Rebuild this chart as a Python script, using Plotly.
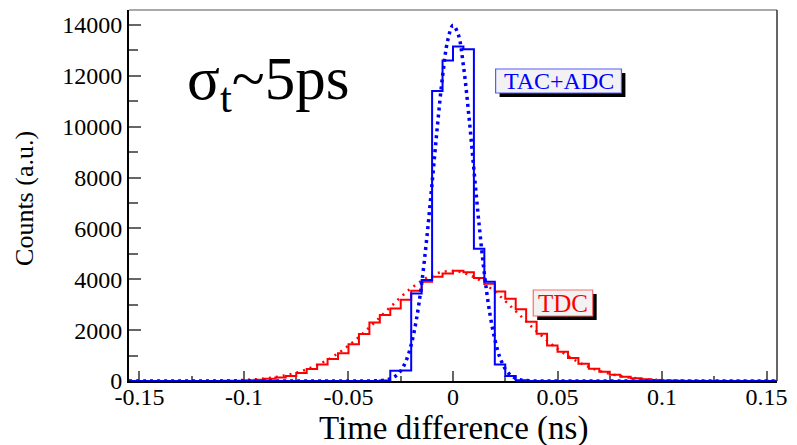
import numpy as np
import plotly.graph_objects as go

# ---- histogram binning (ns) ----
BIN_LO = -0.155
BIN_W = 0.005

# TDC histogram counts, 62 bins of 5 ps from -0.155 ns
tdc_counts = [
    0, 0, 0, 0, 0, 0, 0, 0, 2, 5,
    12, 25, 50, 85, 140, 200, 310, 470, 650, 870,
    1090, 1450, 1850, 2300, 2600, 2850, 3200, 3550, 3900, 4100,
    4230, 4340, 4280, 4050, 3820, 3520, 3230, 2820, 2330, 1860,
    1400, 1150, 900, 680, 480, 360, 250, 170, 110, 65,
    35, 15, 6, 2, 0, 0, 0, 0, 0, 0,
    0, 0,
]

# TAC+ADC histogram counts, same binning
tacadc_counts = [
    0, 0, 0, 0, 0, 0, 0, 0, 0, 0,
    0, 0, 0, 0, 0, 0, 0, 0, 0, 0,
    0, 0, 0, 0, 20, 400, 410, 3440, 3970, 11400,
    12600, 13150, 13050, 5200, 3900, 650, 200, 30, 0, 0,
    0, 0, 0, 0, 0, 0, 0, 0, 0, 0,
    0, 0, 0, 0, 0, 0, 0, 0, 0, 0,
    0, 0,
]

# Gaussian fit curves (dotted)
tacadc_fit_x = [-0.155, -0.045, -0.04, -0.0375, -0.035, -0.0325, -0.03, -0.0275, -0.025,
                -0.0225, -0.02, -0.0175, -0.015, -0.0125, -0.01, -0.0075, -0.005,
                -0.0025, 0.0, 0.0025, 0.005, 0.0075, 0.01, 0.0125, 0.015, 0.0175,
                0.02, 0.0225, 0.025, 0.0275, 0.03, 0.0325, 0.035, 0.0375, 0.04,
                0.045, 0.155]
tacadc_fit_y = [0, 0, 2, 5, 14, 36, 86, 193, 400,
                785, 1430, 2418, 3830, 5650, 7780, 9990, 11980,
                13400, 13990, 13630, 12390, 10510, 8320, 6140, 4230, 2720,
                1640, 911, 475, 232, 105, 44, 17, 6, 2,
                0, 0]

tdc_fit_x = [-0.155, -0.13, -0.12, -0.11, -0.10, -0.09, -0.08, -0.07, -0.06, -0.05,
             -0.04, -0.03, -0.02, -0.01, 0.0, 0.01, 0.02, 0.03, 0.04, 0.05,
             0.06, 0.07, 0.08, 0.09, 0.10, 0.11, 0.12, 0.13, 0.155]
tdc_fit_y = [0, 1, 5, 16, 42, 102, 227, 456, 834, 1390,
             2107, 2908, 3650, 4167, 4328, 4089, 3514, 2747, 1956, 1265,
             743, 399, 195, 86, 35, 13, 4, 1, 0]

X_TICKS = [-0.15, -0.1, -0.05, 0, 0.05, 0.1, 0.15]
X_TICK_LABELS = ["-0.15", "-0.1", "-0.05", "0", "0.05", "0.1", "0.15"]
Y_TICKS = [0, 2000, 4000, 6000, 8000, 10000, 12000, 14000]
Y_TICK_LABELS = [str(v) for v in Y_TICKS]

BLUE = "#0000ff"
RED = "#ff0000"
SERIF = "Liberation Serif, Times New Roman, serif"

# figure geometry (pixels)
FW, FH = 797, 445
ML, MR, MT, MB = 129, 14, 10, 64
PW, PH = FW - ML - MR, FH - MT - MB


def px(xp):
    return (xp - ML) / PW


def py(yp):
    return 1 - (yp - MT) / PH


def step_xy(counts):
    edges = BIN_LO + BIN_W * np.arange(len(counts) + 1)
    return edges, list(counts) + [counts[-1]]


fig = go.Figure()

ex, ey = step_xy(tdc_counts)
fig.add_trace(go.Scatter(x=ex, y=ey, mode="lines", line=dict(color=RED, width=2, shape="hv"),
                         name="TDC", showlegend=False))
fig.add_trace(go.Scatter(x=tdc_fit_x, y=tdc_fit_y, mode="lines",
                         line=dict(color=RED, width=2.5, dash="2px,5px", shape="spline"),
                         showlegend=False))
ex, ey = step_xy(tacadc_counts)
fig.add_trace(go.Scatter(x=ex, y=ey, mode="lines", line=dict(color=BLUE, width=2, shape="hv"),
                         name="TAC+ADC", showlegend=False))
fig.add_trace(go.Scatter(x=tacadc_fit_x, y=tacadc_fit_y, mode="lines",
                         line=dict(color=BLUE, width=3.5, dash="3px,4px", shape="spline"),
                         showlegend=False))

shapes = []
# frame: thin top and right borders
shapes.append(dict(type="line", xref="paper", yref="paper", x0=0, x1=1, y0=1, y1=1,
                   line=dict(color="#8c8c8c", width=1.5)))
shapes.append(dict(type="line", xref="paper", yref="paper", x0=1, x1=1, y0=0, y1=1,
                   line=dict(color="#333333", width=1.5)))


def label_box(x0, y0, x1, y1, border):
    # drop shadow then the filled box
    shapes.append(dict(type="rect", xref="paper", yref="paper",
                       x0=px(x0 + 4), x1=px(x1 + 4), y0=py(y1 + 4), y1=py(y0 + 4),
                       fillcolor="black", line=dict(width=0), layer="above"))
    shapes.append(dict(type="rect", xref="paper", yref="paper",
                       x0=px(x0), x1=px(x1), y0=py(y1), y1=py(y0),
                       fillcolor="#f2f2f2", line=dict(color=border, width=1.2), layer="above"))


label_box(499, 69, 626, 93, "#5a5aff")
label_box(537, 290, 597, 316, "#ff6a6a")

annotations = [
    dict(text="TAC+ADC", x=px(562.5), y=py(81.5), xref="paper", yref="paper",
         showarrow=False, font=dict(family=SERIF, size=24, color=BLUE),
         xanchor="center", yanchor="middle"),
    dict(text="TDC", x=px(567), y=py(303.5), xref="paper", yref="paper",
         showarrow=False, font=dict(family=SERIF, size=25, color=RED),
         xanchor="center", yanchor="middle"),
    dict(text="σ<sub>t</sub>~5ps", x=px(270), y=py(83), xref="paper", yref="paper",
         showarrow=False, font=dict(family=SERIF, size=61, color="black"),
         xanchor="center", yanchor="middle"),
    dict(text="Counts (a.u.)", x=px(24), y=py(198), xref="paper", yref="paper",
         showarrow=False, textangle=-90, font=dict(family=SERIF, size=26, color="black"),
         xanchor="center", yanchor="middle"),
    dict(text="Time difference (ns)", x=px(457), y=py(428), xref="paper", yref="paper",
         showarrow=False, font=dict(family=SERIF, size=33, color="black"),
         xanchor="center", yanchor="middle"),
]

fig.update_layout(
    width=FW, height=FH,
    margin=dict(l=ML, r=MR, t=MT, b=MB, pad=0),
    paper_bgcolor="white", plot_bgcolor="white",
    showlegend=False,
    shapes=shapes, annotations=annotations,
    font=dict(family=SERIF, color="black"),
)

fig.update_xaxes(
    range=[-0.155, 0.155], showgrid=False, zeroline=False,
    showline=True, linecolor="black", linewidth=2, layer="below traces",
    tickmode="array", tickvals=X_TICKS, ticktext=X_TICK_LABELS,
    ticks="inside", ticklen=10, tickwidth=1.5, tickcolor="#666666",
    ticklabelstandoff=-7,
    tickfont=dict(family=SERIF, size=24, color="black"),
    minor=dict(dtick=0.025, tick0=0, ticks="inside", ticklen=5, tickwidth=1.5, tickcolor="#666666"),
)
fig.update_yaxes(
    range=[0, 14590], showgrid=False, zeroline=False,
    showline=True, linecolor="black", linewidth=2, layer="below traces",
    tickmode="array", tickvals=Y_TICKS, ticktext=Y_TICK_LABELS,
    ticks="inside", ticklen=12, tickwidth=1.5, tickcolor="#666666",
    tickfont=dict(family=SERIF, size=24, color="black"),
    minor=dict(dtick=1000, tick0=0, ticks="inside", ticklen=9, tickwidth=1.5, tickcolor="#666666"),
)

fig.write_html("out.html")
